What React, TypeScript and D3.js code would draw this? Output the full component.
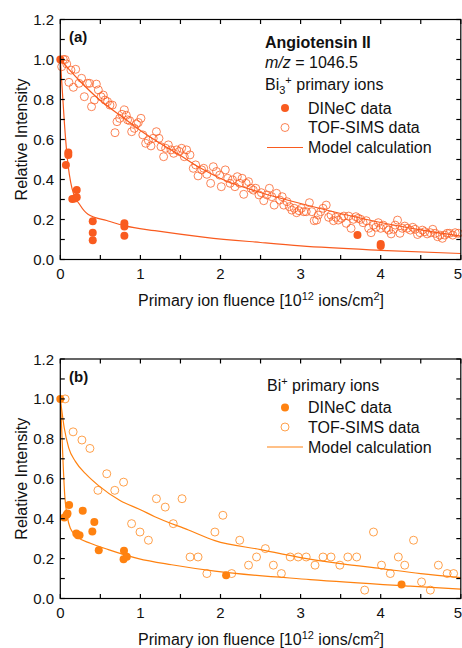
import React from "react";
import * as d3 from "d3";

// ---- Panel (a): Angiotensin II, Bi3+ primary ions ----
const dinecA: [number, number][] = [
  [0, 1.0], [0.07, 0.473], [0.1, 0.535], [0.1, 0.523], [0.15, 0.302], [0.205, 0.347], [0.205, 0.311],
  [0.18, 0.305], [0.405, 0.191], [0.405, 0.134], [0.405, 0.096], [0.8, 0.181], [0.8, 0.165],
  [0.8, 0.119], [3.71, 0.122], [4.0, 0.078], [4.0, 0.068],
];

const tofA: [number, number][] = [
  [0.017, 0.964], [0.038, 1.0], [0.06, 1.0], [0.08, 0.978], [0.108, 0.886], [0.133, 0.947], [0.163, 0.861],
  [0.192, 0.951], [0.233, 0.881], [0.266, 0.906], [0.3, 0.814], [0.34, 0.881], [0.366, 0.881],
  [0.39, 0.764], [0.425, 0.797], [0.45, 0.877], [0.475, 0.848], [0.508, 0.814], [0.537, 0.822],
  [0.558, 0.797], [0.59, 0.789], [0.62, 0.772], [0.65, 0.772], [0.683, 0.634], [0.708, 0.689],
  [0.741, 0.706], [0.77, 0.726], [0.8, 0.748], [0.824, 0.721], [0.84, 0.698], [0.866, 0.694],
  [0.891, 0.639], [0.924, 0.656], [0.95, 0.677], [0.974, 0.685], [1.007, 0.706], [1.03, 0.623],
  [1.066, 0.581], [1.099, 0.595], [1.132, 0.568], [1.16, 0.606], [1.2, 0.639], [1.232, 0.606],
  [1.257, 0.564], [1.29, 0.514], [1.315, 0.556], [1.349, 0.573], [1.382, 0.548], [1.415, 0.531],
  [1.452, 0.548], [1.485, 0.54], [1.515, 0.556], [1.548, 0.514], [1.577, 0.548], [1.619, 0.523],
  [1.66, 0.456], [1.69, 0.473], [1.72, 0.418], [1.765, 0.448], [1.79, 0.456], [1.83, 0.426],
  [1.877, 0.381], [1.91, 0.464], [1.95, 0.44], [1.99, 0.422], [2.01, 0.364], [2.06, 0.448],
  [2.09, 0.406], [2.12, 0.381], [2.15, 0.398], [2.18, 0.364], [2.21, 0.414], [2.24, 0.381],
  [2.27, 0.406], [2.29, 0.326], [2.32, 0.381], [2.35, 0.389], [2.38, 0.356], [2.41, 0.347],
  [2.44, 0.356], [2.48, 0.323], [2.51, 0.334], [2.54, 0.294], [2.58, 0.323], [2.61, 0.356],
  [2.64, 0.314], [2.67, 0.272], [2.7, 0.331], [2.74, 0.297], [2.77, 0.314], [2.79, 0.272],
  [2.83, 0.289], [2.86, 0.264], [2.89, 0.247], [2.92, 0.256], [2.95, 0.234], [2.98, 0.244],
  [3.01, 0.256], [3.04, 0.239], [3.07, 0.239], [3.11, 0.284], [3.14, 0.239], [3.17, 0.194],
  [3.2, 0.197], [3.22, 0.222], [3.25, 0.239], [3.28, 0.256], [3.32, 0.272], [3.35, 0.211],
  [3.38, 0.222], [3.41, 0.194], [3.44, 0.211], [3.47, 0.197], [3.51, 0.206], [3.54, 0.217],
  [3.57, 0.181], [3.6, 0.217], [3.63, 0.156], [3.66, 0.201], [3.69, 0.214], [3.72, 0.206],
  [3.75, 0.201], [3.78, 0.184], [3.82, 0.194], [3.85, 0.156], [3.88, 0.134], [3.91, 0.172],
  [3.94, 0.161], [3.97, 0.184], [4.0, 0.156], [4.03, 0.172], [4.07, 0.156], [4.1, 0.147],
  [4.13, 0.128], [4.16, 0.151], [4.18, 0.172], [4.21, 0.197], [4.24, 0.131], [4.27, 0.156],
  [4.3, 0.167], [4.33, 0.156], [4.37, 0.147], [4.4, 0.161], [4.43, 0.151], [4.46, 0.125],
  [4.49, 0.134], [4.52, 0.147], [4.55, 0.139], [4.58, 0.128], [4.62, 0.134], [4.65, 0.151],
  [4.68, 0.131], [4.71, 0.114], [4.74, 0.122], [4.77, 0.106], [4.8, 0.122], [4.83, 0.131],
  [4.86, 0.131], [4.9, 0.122], [4.93, 0.134], [4.97, 0.131],
];

const modelDinecA: [number, number][] = [
  [0, 1.0], [0.025, 0.845], [0.05, 0.69], [0.084, 0.52], [0.146, 0.356], [0.25, 0.27], [0.35, 0.225],
  [0.58, 0.195], [0.81, 0.168], [1.18, 0.144], [1.81, 0.111], [2.5, 0.085], [3.0, 0.068],
  [4.0, 0.046], [5.0, 0.03],
];

const modelTofA: [number, number][] = [
  [0, 1.0], [0.1, 0.955], [0.25, 0.89], [0.5, 0.795], [0.75, 0.72], [1.0, 0.645], [1.25, 0.58],
  [1.5, 0.52], [1.75, 0.457], [2.0, 0.405], [2.5, 0.335], [3.0, 0.28], [3.5, 0.23], [4.0, 0.185],
  [4.5, 0.148], [5.0, 0.117],
];

// ---- Panel (b): Bi+ primary ions ----
const dinecB: [number, number][] = [
  [0, 1.0], [0.05, 0.406], [0.08, 0.42], [0.09, 0.426], [0.11, 0.469], [0.2, 0.326], [0.22, 0.317],
  [0.24, 0.317], [0.28, 0.44], [0.4, 0.336], [0.425, 0.383], [0.48, 0.242], [0.795, 0.239],
  [0.79, 0.197], [0.83, 0.209], [2.07, 0.117], [4.26, 0.07],
];

const tofB: [number, number][] = [
  [0.06, 1.0], [0.16, 0.835], [0.27, 0.794], [0.37, 0.752], [0.47, 0.542], [0.58, 0.625],
  [0.68, 0.542], [0.79, 0.583], [0.89, 0.375], [0.995, 0.333], [1.1, 0.292], [1.2, 0.5],
  [1.31, 0.458], [1.41, 0.375], [1.52, 0.5], [1.62, 0.208], [1.72, 0.208], [1.83, 0.125],
  [1.93, 0.333], [2.03, 0.417], [2.14, 0.125], [2.24, 0.292], [2.35, 0.167], [2.45, 0.208],
  [2.56, 0.25], [2.66, 0.167], [2.76, 0.125], [2.87, 0.208], [2.97, 0.208], [3.07, 0.208],
  [3.18, 0.167], [3.28, 0.208], [3.38, 0.208], [3.49, 0.167], [3.59, 0.208], [3.7, 0.208],
  [3.8, 0.042], [3.91, 0.333], [4.01, 0.167], [4.12, 0.125], [4.22, 0.208], [4.3, 0.167],
  [4.41, 0.292], [4.51, 0.083], [4.62, 0.042], [4.72, 0.167], [4.83, 0.125], [4.91, 0.125],
];

const modelDinecB: [number, number][] = [
  [0, 1.0], [0.017, 0.853], [0.034, 0.686], [0.055, 0.519], [0.084, 0.419], [0.125, 0.352],
  [0.21, 0.31], [0.375, 0.277], [0.6, 0.245], [0.975, 0.2], [1.39, 0.169], [1.93, 0.137],
  [3.12, 0.095], [4.37, 0.062], [5.0, 0.047],
];

const modelTofB: [number, number][] = [
  [0, 1.0], [0.05, 0.853], [0.105, 0.755], [0.19, 0.686], [0.33, 0.619], [0.47, 0.568],
  [0.75, 0.49], [1.0, 0.445], [1.18, 0.41], [1.6, 0.343], [1.93, 0.29], [2.5, 0.245],
  [3.0, 0.205], [3.5, 0.175], [4.0, 0.15], [4.5, 0.125], [5.0, 0.105],
];

const xTicks = [0, 1, 2, 3, 4, 5];
const xMinorTicks = [0.5, 1.5, 2.5, 3.5, 4.5];
const yTicks = [0, 0.2, 0.4, 0.6, 0.8, 1.0, 1.2];
const yMinorTicks = [0.1, 0.3, 0.5, 0.7, 0.9, 1.1];

const FONT = "'Liberation Sans', Arial, Helvetica, sans-serif";
const LEFT = 60.3;
const RIGHT = 460.8;
const TICK = 4.5;
const TITLE_SIZE = 16;

type PanelProps = {
  top: number;
  bottom: number;
  color: string;
  label: string;
  dinec: [number, number][];
  tof: [number, number][];
  modelDinec: [number, number][];
  modelTof: [number, number][];
  legend: React.ReactNode;
  legendY: number;
};

function Panel({ top, bottom, color, label, dinec, tof, modelDinec, modelTof, legend, legendY }: PanelProps) {
  const x = d3.scaleLinear().domain([0, 5]).range([LEFT, RIGHT]);
  const y = d3.scaleLinear().domain([0, 1.2]).range([bottom, top]);
  const line = d3
    .line<[number, number]>()
    .x((d) => x(d[0]))
    .y((d) => y(d[1]))
    .curve(d3.curveMonotoneX);
  const fmt = d3.format(".1f");
  const allX = [...xTicks, ...xMinorTicks];
  const allY = [...yTicks, ...yMinorTicks];
  const lastX = xTicks[xTicks.length - 1];

  return (
    <g fontFamily={FONT}>
      {/* TOF-SIMS data */}
      {tof.map((d, i) => (
        <circle key={"t" + i} cx={x(d[0])} cy={y(d[1])} r={4} fill="none" stroke={color} strokeWidth={1} strokeOpacity={0.75} />
      ))}
      {/* model curves */}
      <path d={line(modelTof) ?? ""} fill="none" stroke={color} strokeWidth={1.2} />
      <path d={line(modelDinec) ?? ""} fill="none" stroke={color} strokeWidth={1.2} />
      {/* DINeC data */}
      {dinec.map((d, i) => (
        <circle key={"d" + i} cx={x(d[0])} cy={y(d[1])} r={4} fill={color} stroke="none" />
      ))}

      {/* frame */}
      <rect x={LEFT} y={top} width={RIGHT - LEFT} height={bottom - top} fill="none" stroke="#000" strokeWidth={1.2} />
      {allX.map((t) => (
        <g key={"xt" + t} stroke="#000" strokeWidth={1.2}>
          <line x1={x(t)} x2={x(t)} y1={bottom} y2={bottom - TICK} />
          <line x1={x(t)} x2={x(t)} y1={top} y2={top + TICK} />
        </g>
      ))}
      {allY.map((t) => (
        <g key={"yt" + t} stroke="#000" strokeWidth={1.2}>
          <line x1={LEFT} x2={LEFT + TICK} y1={y(t)} y2={y(t)} />
          <line x1={RIGHT} x2={RIGHT - TICK} y1={y(t)} y2={y(t)} />
        </g>
      ))}
      {xTicks.map((t) => (
        <text
          key={"xl" + t}
          x={t === lastX ? 462 : x(t)}
          y={bottom + 19}
          fontSize={15}
          textAnchor={t === lastX ? "end" : "middle"}
          fill="#111"
        >
          {t}
        </text>
      ))}
      {yTicks.map((t) => (
        <text key={"yl" + t} x={54} y={y(t) + 5.5} fontSize={15} textAnchor="end" fill="#111">
          {fmt(t)}
        </text>
      ))}

      {/* axis titles */}
      <text
        transform={`translate(27, ${(top + bottom) / 2}) rotate(-90)`}
        fontSize={TITLE_SIZE}
        textAnchor="middle"
        fill="#111"
      >
        Relative Intensity
      </text>
      <text x={(LEFT + RIGHT) / 2 + 0.5} y={bottom + 46} fontSize={TITLE_SIZE} textAnchor="middle" fill="#111">
        Primary ion fluence [10
        <tspan dy={-6} fontSize={11}>12</tspan>
        <tspan dy={6}> ions/cm</tspan>
        <tspan dy={-6} fontSize={11}>2</tspan>
        <tspan dy={6}>]</tspan>
      </text>

      {/* panel label */}
      <text x={69} y={top + 22.5} fontSize={15} fontWeight="bold" fill="#111">
        {label}
      </text>

      {/* legend */}
      {legend}
      <circle cx={285} cy={legendY} r={4} fill={color} />
      <text x={308} y={legendY + 5.5} fontSize={TITLE_SIZE} fill="#111">DINeC data</text>
      <circle cx={285} cy={legendY + 19.5} r={4} fill="none" stroke={color} strokeWidth={1} strokeOpacity={0.75} />
      <text x={308} y={legendY + 25} fontSize={TITLE_SIZE} fill="#111">TOF-SIMS data</text>
      <line x1={267} x2={303} y1={legendY + 39.5} y2={legendY + 39.5} stroke={color} strokeWidth={1.2} />
      <text x={308} y={legendY + 45} fontSize={TITLE_SIZE} fill="#111">Model calculation</text>
    </g>
  );
}

export default function App() {
  const colorA = "#F95B1F";
  const colorB = "#FF8210";
  return (
    <svg
      width={462}
      height={648}
      viewBox="0 0 462 648"
      style={{ position: "absolute", left: 0, top: 0, background: "#fff" }}
    >
      <rect width={462} height={648} fill="#fff" />
      <Panel
        top={19.5}
        bottom={259.5}
        color={colorA}
        label="(a)"
        dinec={dinecA}
        tof={tofA}
        modelDinec={modelDinecA}
        modelTof={modelTofA}
        legendY={108}
        legend={
          <g fontFamily={FONT} fill="#111">
            <text x={265} y={47.5} fontSize={TITLE_SIZE} fontWeight="bold">Angiotensin II</text>
            <text x={265} y={68} fontSize={TITLE_SIZE}>
              <tspan fontStyle="italic">m/z</tspan> = 1046.5
            </text>
            <text x={265} y={89.5} fontSize={TITLE_SIZE}>
              Bi
              <tspan dy={4} fontSize={11}>3</tspan>
              <tspan dy={-10} fontSize={11}>+</tspan>
              <tspan dy={6}> primary ions</tspan>
            </text>
          </g>
        }
      />
      <Panel
        top={359}
        bottom={598.5}
        color={colorB}
        label="(b)"
        dinec={dinecB}
        tof={tofB}
        modelDinec={modelDinecB}
        modelTof={modelTofB}
        legendY={407.5}
        legend={
          <g fontFamily={FONT} fill="#111">
            <text x={267} y={391} fontSize={TITLE_SIZE}>
              Bi
              <tspan dy={-6} fontSize={11}>+</tspan>
              <tspan dy={6}> primary ions</tspan>
            </text>
          </g>
        }
      />
    </svg>
  );
}
